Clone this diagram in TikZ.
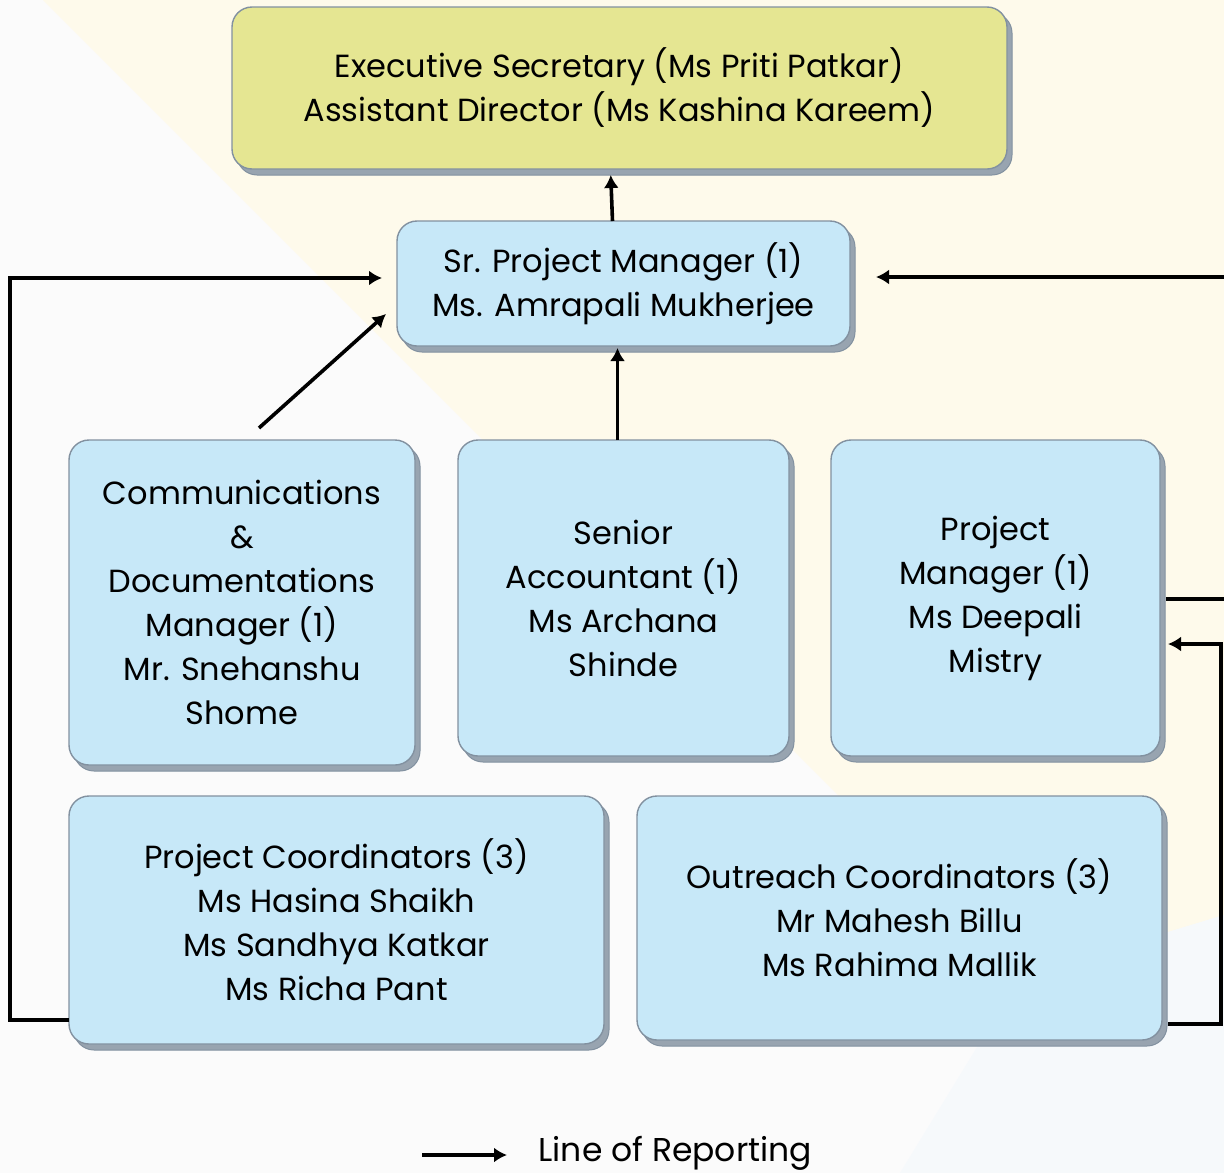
\documentclass[tikz,border=0pt]{standalone}
\usepackage{fontspec}
\setmainfont{Poppins}
\usetikzlibrary{arrows.meta,shadows}
\definecolor{cream}{HTML}{FEFAEB}
\definecolor{paper}{HTML}{FBFBFB}
\definecolor{paperblue}{HTML}{F6F9FB}
\definecolor{headfill}{HTML}{E5E692}
\definecolor{rolefill}{HTML}{C7E8F8}
\definecolor{edgegray}{HTML}{8291A0}
\definecolor{shadowgray}{HTML}{98A4B0}
\tikzset{
    role/.style={draw=edgegray, line width=1.4pt, fill=rolefill, rounded corners=20pt,
        anchor=north west, inner sep=0pt, outer sep=0pt, align=center,
        font=\fontsize{32}{44}\selectfont,
        general shadow={fill=shadowgray, draw=edgegray, line width=1pt, shadow xshift=5pt, shadow yshift=-6pt}},
    head/.style={role, fill=headfill},
    report/.style={line width=3.6pt, -{Latex[length=13pt,width=15pt]}},
    link/.style={line width=3.6pt}
}
\begin{document}
\begin{tikzpicture}[x=1pt, y=-1pt]
    % Background
    \useasboundingbox (0,0) rectangle (1224,1173);
    \fill[paper] (0,0) rectangle (1224,1173);
    \fill[cream] (43,0) -- (1224,0) -- (1224,915) -- (1020,977) -- cycle;
    \fill[paperblue] (1020,977) -- (1224,915) -- (1224,1173) -- (900,1173) -- cycle;
    % Boxes
    \node[head, minimum width=775pt, minimum height=162pt] (exec) at (232,7)
        {Executive Secretary (Ms Priti Patkar)\\Assistant Director (Ms Kashina Kareem)};
    \node[role, minimum width=453pt, minimum height=125pt] (srpm) at (397,221)
        {Sr. Project Manager (1)\\Ms. Amrapali Mukherjee};
    \node[role, minimum width=346pt, minimum height=325pt] (comms) at (69,440)
        {Communications\\\&\\Documentations\\Manager (1)\\Mr. Snehanshu\\Shome};
    \node[role, minimum width=331pt, minimum height=316pt] (acct) at (458,440)
        {Senior\\Accountant (1)\\Ms Archana\\Shinde};
    \node[role, minimum width=329pt, minimum height=316pt] (pm) at (831,440)
        {Project\\Manager (1)\\Ms Deepali\\Mistry};
    \node[role, minimum width=535pt, minimum height=248pt] (pcoord) at (69,796)
        {Project Coordinators (3)\\Ms Hasina Shaikh\\Ms Sandhya Katkar\\Ms Richa Pant};
    \node[role, minimum width=525pt, minimum height=244pt] (outreach) at (637,796)
        {Outreach Coordinators (3)\\Mr Mahesh Billu\\Ms Rahima Mallik};
    % Turning points
    \coordinate (lbot) at (10,1020);
    \coordinate (ltop) at (10,278);
    \coordinate (srin) at (382,278);
    \coordinate (rtop) at (1224,277);
    \coordinate (rpm) at (1224,599);
    \coordinate (rmid) at (1221,644);
    \coordinate (rbot) at (1221,1024);
    \coordinate (legs) at (422,1155);
    % Lines of reporting
    \draw[report, shorten >=6pt] ([xshift=-11pt]srpm.north) -- ([xshift=-9pt]exec.south);
    \draw[report, shorten >=2pt] ([xshift=-6pt]acct.north) -- ([xshift=-6pt]srpm.south);
    \draw[report] ([xshift=17pt, yshift=12pt]comms.north) -- ([xshift=-11pt, yshift=32pt]srpm.south west);
    \draw[report] (pcoord.west |- lbot) -- (lbot) -- (ltop) -- (srin);
    \draw[report, shorten >=26pt] (rtop) -- (srpm.east |- rtop);
    \draw[link, shorten <=6pt] (pm.east |- rpm) -- (rpm);
    \draw[report, shorten <=6pt, shorten >=8pt] (outreach.east |- rbot) -- (rbot) -- (rmid) -- (pm.east |- rmid);
    % Legend
    \node[anchor=west, font=\fontsize{33}{40}\selectfont] (legend) at (535,1153) {Line of Reporting};
    \draw[report, shorten >=28pt] (legs) -- (legend.west |- legs);
\end{tikzpicture}
\end{document}
